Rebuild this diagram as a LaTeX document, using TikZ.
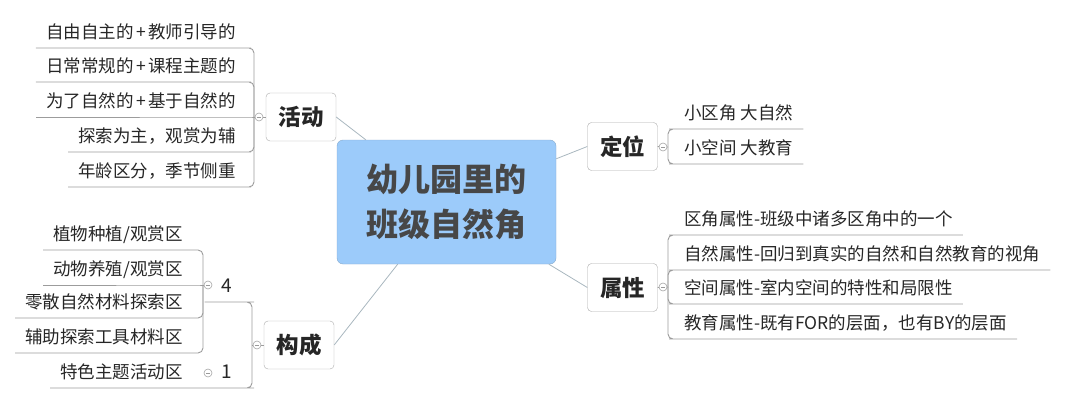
\documentclass[tikz,border=0pt]{standalone}
\usepackage{fontspec}
\setmainfont{Noto Sans CJK SC}
\usetikzlibrary{calc}
\definecolor{rootblue}{HTML}{9CCBFA}
\definecolor{rootline}{HTML}{86A9CC}
\definecolor{linkgray}{HTML}{A9B7BF}
\definecolor{leafgray}{HTML}{9C9C9C}
\definecolor{ink}{HTML}{262626}
\def\plus{\kern2.5pt+\kern2.5pt}
\tikzset{
  root/.style={draw=rootline, fill=rootblue, rounded corners=6pt, minimum width=219pt, minimum height=124pt, align=center, font=\fontsize{32}{45}\selectfont\bfseries, text=ink!85},
  topic/.style={draw=gray!65, fill=white, rounded corners=4pt, minimum width=70pt, minimum height=48pt, inner sep=0pt, font=\fontsize{22.5}{26}\selectfont\bfseries, text=ink},
  leaf/.style={inner xsep=10pt, inner ysep=0pt, text height=14pt, text depth=9.5pt, font=\fontsize{17.5}{20}\selectfont, text=ink},
  num/.style={leaf, minimum width=44pt, font=\fontsize{19}{20}\selectfont},
  link/.style={draw=linkgray, line width=0.8pt},
  branch/.style={draw=leafgray, line width=0.9pt, rounded corners=5pt},
  fold/.style={circle, draw=gray!70, fill=white, minimum size=8pt, inner sep=0pt, line width=0.6pt,
    path picture={\draw[gray!80, line width=0.6pt] ([xshift=-2pt]path picture bounding box.center) -- ([xshift=2pt]path picture bounding box.center);}}
}

\begin{document}
\begin{tikzpicture}[x=1pt,y=-1pt]
		%%%%% CANVAS %%%%%
		\useasboundingbox (0,0) rectangle (1080,404);
		
		%%%%% ROOT AND TOPICS %%%%%
		\node[root] (root) at (446.5,202) {幼儿园里的\\班级自然角};
		\node[topic] (act) at (301,117) {活动};
		\node[topic] (loc) at (622.5,146.5) {定位};
		\node[topic] (attr) at (622.5,287.5) {属性};
		\node[topic] (comp) at (299,345) {构成};
		
		\draw[link] (act.east) -- (root);
		\draw[link] (loc.west) -- (root);
		\draw[link] (attr.west) -- (root);
		\draw[link] (comp.east) -- (root);
		
		%%%%% JUNCTIONS %%%%%
		\coordinate (actj) at (254,117);
		\coordinate (locj) at (668,147);
		\coordinate (attrj) at (668,287);
		\coordinate (compj) at (252,345);
		\coordinate (fourj) at (203,285);
		\coordinate (actf) at (259,117);
		\coordinate (locf) at (663,147);
		\coordinate (attrf) at (663,287);
		\coordinate (compf) at (257,345);
		\coordinate (fourf) at (208,285);
		\coordinate (onef) at (208,373);
		
		\draw[branch] (act.west) -- (actj);
		\draw[branch] (loc.east) -- (locj);
		\draw[branch] (attr.east) -- (attrj);
		\draw[branch] (comp.west) -- (compj);
		\draw[branch] (fourf) -- (fourj);
		
		%%%%% ACTIVITIES %%%%%
		\node[leaf, anchor=south east] (act1) at (246,48) {自由自主的\plus 教师引导的};
		\node[leaf, anchor=south east] (act2) at (246,82) {日常常规的\plus 课程主题的};
		\node[leaf, anchor=south east] (act3) at (246,117) {为了自然的\plus 基于自然的};
		\node[leaf, anchor=south east] (act4) at (246,152) {探索为主，观赏为辅};
		\node[leaf, anchor=south east] (act5) at (246,187) {年龄区分，季节侧重};
		\draw[branch] (actj) |- (act1.south east) -- (act1.south west);
		\draw[branch] (actj) |- (act2.south east) -- (act2.south west);
		\draw[branch] (actj) -- (act3.south east) -- (act3.south west);
		\draw[branch] (actj) |- (act4.south east) -- (act4.south west);
		\draw[branch] (actj) |- (act5.south east) -- (act5.south west);
		
		%%%%% POSITIONING %%%%%
		\node[leaf, anchor=south west] (loc1) at (674,129) {小区角 大自然};
		\node[leaf, anchor=south west] (loc2) at (674,164) {小空间 大教育};
		\draw[branch] (locj) |- (loc1.south west) -- (loc1.south east);
		\draw[branch] (locj) |- (loc2.south west) -- (loc2.south east);
		
		%%%%% ATTRIBUTES %%%%%
		\node[leaf, anchor=south west] (attr1) at (674,235) {区角属性-班级中诸多区角中的一个};
		\node[leaf, anchor=south west] (attr2) at (674,270) {自然属性-回归到真实的自然和自然教育的视角};
		\node[leaf, anchor=south west] (attr3) at (674,304) {空间属性-室内空间的特性和局限性};
		\node[leaf, anchor=south west] (attr4) at (674,339) {教育属性-既有FOR的层面，也有BY的层面};
		\draw[branch] (attrj) |- (attr1.south west) -- (attr1.south east);
		\draw[branch] (attrj) |- (attr2.south west) -- (attr2.south east);
		\draw[branch] (attrj) |- (attr3.south west) -- (attr3.south east);
		\draw[branch] (attrj) |- (attr4.south west) -- (attr4.south east);
		
		%%%%% COMPOSITION %%%%%
		\node[num, anchor=south east] (four) at (249,302) {4};
		\node[num, anchor=south east] (one) at (249,388) {1};
		\draw[branch] (compj) |- (four.south east) -- (four.south west);
		
		\node[leaf, anchor=south east] (four1) at (193,250) {植物种植/观赏区};
		\node[leaf, anchor=south east] (four2) at (193,285) {动物养殖/观赏区};
		\node[leaf, anchor=south east] (four3) at (193,318) {零散自然材料探索区};
		\node[leaf, anchor=south east] (four4) at (193,353) {辅助探索工具材料区};
		\draw[branch] (fourj) |- (four1.south east) -- (four1.south west);
		\draw[branch] (fourj) -- (four2.south east) -- (four2.south west);
		\draw[branch] (fourj) |- (four3.south east) -- (four3.south west);
		\draw[branch] (fourj) |- (four4.south east) -- (four4.south west);
		
		\node[leaf, anchor=south east] (feat) at (193,388) {特色主题活动区};
		\draw[branch] (compj) |- (one.south east) -- (one.south west) -- (feat.south west);
		
		%%%%% FOLD MARKS %%%%%
		\node[fold] at (actf) {};
		\node[fold] at (locf) {};
		\node[fold] at (attrf) {};
		\node[fold] at (compf) {};
		\node[fold] at (fourf) {};
		\node[fold] at (onef) {};
		
	\end{tikzpicture}
\end{document}
